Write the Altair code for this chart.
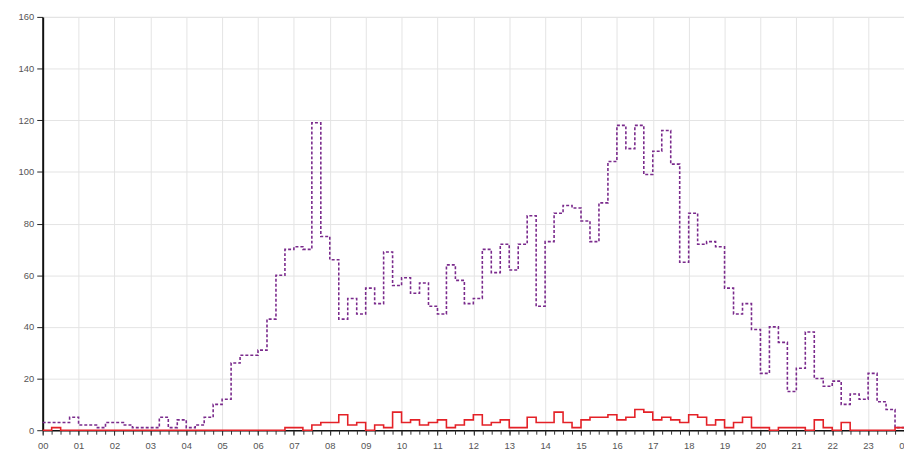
import altair as alt
import pandas as pd

# quarter-hour time points (hours), 00:00 .. 24:00
times = [i * 0.25 for i in range(97)]
hour_ticks = list(range(25))
quarter_ticks = [i * 0.25 for i in range(97)]

purple_vals = [
    3, 3, 3, 5,   2, 2, 1, 3,   3, 2, 1, 1,   1, 5, 1, 4,
    1, 2, 5, 10,  12, 26, 29, 29,  31, 43, 60, 70,  71, 70, 119, 75,
    66, 43, 51, 45,  55, 49, 69, 56,  59, 53, 57, 48,  45, 64, 58, 49,
    51, 70, 61, 72,  62, 72, 83, 48,  73, 84, 87, 86,  81, 73, 88, 104,
    118, 109, 118, 99,  108, 116, 103, 65,  84, 72, 73, 71,  55, 45, 49, 39,
    22, 40, 34, 15,  24, 38, 20, 17,  19, 10, 14, 12,  22, 11, 8, 1,
]
red_vals = [
    0, 1, 0, 0,  0, 0, 0, 0,  0, 0, 0, 0,  0, 0, 0, 0,
    0, 0, 0, 0,  0, 0, 0, 0,  0, 0, 0, 1,  1, 0, 2, 3,
    3, 6, 2, 3,  0, 2, 1, 7,  3, 4, 2, 3,  4, 1, 2, 4,
    6, 2, 3, 4,  1, 1, 5, 3,  3, 7, 3, 1,  4, 5, 5, 6,
    4, 5, 8, 7,  4, 5, 4, 3,  6, 5, 2, 4,  1, 3, 5, 1,
    1, 0, 1, 1,  1, 0, 4, 1,  0, 3, 0, 0,  0, 0, 0, 1,
]

df = pd.DataFrame({
    "t": times,
    "purple": purple_vals + [purple_vals[-1]],
    "red": red_vals + [red_vals[-1]],
})

FONT = "Liberation Sans"
label_expr = "(datum.value % 24) < 10 ? '0' + (datum.value % 24) : '' + (datum.value % 24)"

xscale = alt.Scale(domain=[0, 24], nice=False, zero=False)
yscale = alt.Scale(domain=[0, 160], nice=False)

y_axis = alt.Axis(
    values=list(range(0, 161, 20)), grid=True, gridColor="#e4e4e4", gridWidth=1,
    domainColor="#111111", domainWidth=2, tickColor="#222222", tickSize=6,
    labelColor="#555555", labelFontSize=9.5, labelFont=FONT, labelPadding=3, title=None,
)

major_x = alt.Axis(
    orient="bottom",
    values=hour_ticks, labelExpr=label_expr, grid=True, gridColor="#e4e4e4", gridWidth=1,
    domainColor="#111111", domainWidth=1.5, tickColor="#333333", tickSize=5,
    labelColor="#555555", labelFontSize=9.5, labelFont=FONT, labelPadding=5, title=None,
    labelFlush=False, labelOverlap=False,
)
minor_x = alt.Axis(
    orient="bottom",
    values=quarter_ticks, labels=False, grid=False, domain=False,
    tickColor="#333333", tickSize=4, title=None,
)

purple_line = alt.Chart(df).mark_line(
    interpolate="step-after", color="#7a2a8c", strokeWidth=1.6, strokeDash=[3, 2]
).encode(
    x=alt.X("t:Q", scale=xscale, axis=major_x),
    y=alt.Y("purple:Q", scale=yscale, axis=y_axis),
)

red_line = alt.Chart(df).mark_line(
    interpolate="step-after", color="#e42127", strokeWidth=1.6
).encode(
    x=alt.X("t:Q", scale=xscale, axis=minor_x),
    y=alt.Y("red:Q", scale=yscale, axis=y_axis),
)

chart = alt.layer(purple_line, red_line).resolve_axis(x="independent").properties(
    width=869, height=417,
    autosize=alt.AutoSizeParams(type="none"),
    padding={"left": 35, "top": 7, "right": 0, "bottom": 20},
).configure_view(stroke=None).configure(background="white")

chart.save("out.html", embed_options={"renderer": "svg", "actions": False})
